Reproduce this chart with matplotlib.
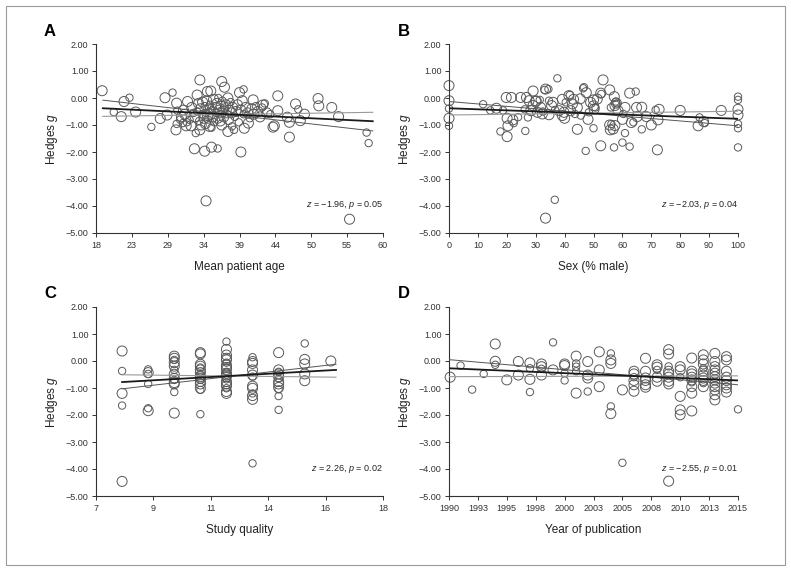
import matplotlib
matplotlib.use("Agg")
import numpy as np
from matplotlib import pyplot as plt
from matplotlib.patches import Rectangle

plt.rcParams['font.family'] = ['Liberation Sans', 'DejaVu Sans']
plt.rcParams['mathtext.fontset'] = 'custom'
plt.rcParams['mathtext.rm'] = 'Liberation Sans'
plt.rcParams['mathtext.it'] = 'Liberation Sans:italic'
plt.rcParams['axes.unicode_minus'] = True

# (x, hedges g, weight class)
age_pts = [
    (18.9, 0.27, 2), (20.6, -0.52, 1), (21.7, -0.69, 2), (22.1, -0.13, 2), (22.9, 0.01, 1),
    (23.8, -0.52, 2), (26.1, -1.07, 1), (27.4, -0.76, 2), (28.1, 0.01, 2), (28.4, -0.63, 2),
    (29.2, 0.20, 1), (29.8, -0.19, 2), (29.9, -0.47, 1), (29.7, -1.18, 2), (29.8, -0.96, 1),
    (30.5, -0.69, 2), (30.7, -0.93, 1), (31.2, -1.03, 2), (31.4, -0.13, 2), (31.7, -0.81, 1),
    (31.9, -1.03, 2), (32.4, -1.88, 2), (32.6, -1.30, 1), (32.8, 0.11, 2), (33.2, 0.67, 2),
    (33.2, -1.18, 2), (33.9, -1.97, 2), (34.1, -3.81, 2), (34.3, 0.24, 2), (34.8, 0.26, 2),
    (34.9, -1.82, 2), (35.8, -1.87, 1), (36.4, 0.61, 2), (36.8, 0.40, 2), (37.3, 0.00, 2),
    (37.3, -1.24, 2), (38.2, -1.18, 1), (39.2, -2.00, 2), (39.0, 0.20, 2), (39.6, 0.32, 1),
    (39.7, -1.12, 2), (40.3, -0.93, 2), (41.0, -0.07, 2), (42.4, -0.26, 2), (42.7, -0.20, 1),
    (43.9, -1.08, 2), (44.1, -1.03, 2), (44.6, 0.08, 2), (44.6, -0.47, 2), (46.0, -0.71, 2),
    (46.3, -1.45, 2), (46.3, -0.90, 2), (47.2, -0.22, 2), (47.6, -0.42, 1), (47.9, -0.84, 2),
    (48.5, -0.60, 2), (50.5, -0.02, 2), (50.6, -0.29, 2), (52.5, -0.35, 2), (53.5, -0.69, 2),
    (55.1, -4.49, 2), (57.6, -1.28, 1), (57.9, -1.67, 1),
    (32.0, -0.35, 2), (32.3, -0.55, 1), (32.5, -0.70, 2), (32.8, -0.50, 1), (33.0, -0.20, 2),
    (33.1, -0.85, 1), (33.3, -0.40, 2), (33.5, -0.60, 1), (33.6, -0.15, 2), (33.8, -0.75, 2),
    (33.9, -0.30, 1), (34.0, -0.95, 2), (34.1, -0.55, 1), (34.2, -0.10, 2), (34.3, -0.65, 2),
    (34.4, -0.80, 1), (34.5, -0.40, 2), (34.6, -1.05, 2), (34.7, -0.25, 1), (34.8, -0.60, 2),
    (35.0, -0.45, 1), (35.1, -0.70, 2), (35.2, -0.05, 2), (35.3, -0.90, 1), (35.5, -0.35, 2),
    (35.6, -0.55, 1), (35.7, -0.20, 2), (35.8, -0.75, 2), (35.9, 0.00, 1), (36.0, -0.45, 2),
    (36.1, -0.60, 1), (36.2, -0.85, 2), (36.3, -0.30, 2), (36.5, -0.10, 1), (36.6, -0.50, 2),
    (36.7, -0.70, 2), (36.9, -0.40, 1), (37.0, -0.25, 2), (37.2, -0.60, 1), (37.4, -0.80, 2),
    (37.5, -0.45, 2), (37.7, -0.15, 1), (37.8, -0.55, 2), (38.0, -0.35, 2), (38.3, -0.70, 1),
    (38.5, -0.50, 2), (38.7, -0.25, 2), (38.9, -0.90, 1), (39.2, -0.45, 2), (39.4, -0.10, 2),
    (39.6, -0.60, 1), (39.9, -0.35, 2), (40.2, -0.55, 2), (40.5, -0.75, 1), (40.8, -0.40, 2),
    (41.1, -0.60, 2), (41.4, -0.30, 1), (41.7, -0.50, 2), (42.0, -0.70, 2), (42.3, -0.35, 1),
    (43.0, -0.55, 2), (43.5, -0.60, 1), (31.0, -0.60, 2), (31.3, -0.90, 1), (30.8, -0.45, 2),
    (30.3, -0.80, 1), (33.4, -1.00, 2), (34.9, -1.10, 1), (36.4, -1.00, 2), (37.9, -1.05, 1),
]

sex_pts = [
    (0, 0.46, 2), (0, -0.10, 2), (0, -0.39, 1), (0, -0.75, 2), (0, -1.03, 1),
    (11.8, -0.23, 1), (14.3, -0.46, 1), (16.4, -0.38, 2), (17.8, -1.24, 1), (18.7, -0.46, 1),
    (19.8, 0.02, 2), (20.1, -0.75, 2), (20.1, -1.43, 2), (20.4, -1.03, 2), (21.6, 0.02, 2),
    (22.1, -0.81, 2), (22.4, -0.93, 1), (23.9, -0.71, 1), (24.8, 0.02, 2), (26.2, -0.42, 1),
    (26.4, -1.22, 1), (26.8, 0.02, 2), (27.3, -0.72, 1), (27.7, -0.10, 2), (28.3, -0.47, 2),
    (29.1, 0.26, 2), (29.1, -0.28, 2), (30.0, -0.12, 2), (30.2, -0.11, 2), (30.6, -0.53, 2),
    (31.4, -0.07, 1), (31.7, -0.35, 2), (32.3, -0.59, 2), (32.5, -0.50, 1), (33.1, 0.30, 1),
    (33.4, 0.33, 2), (33.4, -4.45, 2), (34.4, 0.33, 1), (34.6, -0.10, 1), (34.6, -0.62, 2),
    (35.5, -0.28, 2), (36.0, -0.16, 2), (36.6, -3.77, 1), (36.7, -0.44, 1), (37.5, 0.73, 1),
    (38.1, -0.47, 2), (39.2, -0.05, 2), (39.2, -0.65, 2), (39.8, -0.53, 2), (40.4, -0.16, 1),
    (40.0, -0.75, 2), (41.5, 0.09, 2), (41.8, 0.11, 1), (42.1, -0.47, 2), (42.7, -0.22, 2),
    (43.1, -0.05, 2), (43.6, -0.59, 1), (44.4, -1.16, 2), (44.4, -0.35, 2), (45.4, -0.03, 2),
    (45.6, -0.65, 1), (46.4, 0.36, 1), (46.7, 0.40, 1), (47.3, -1.96, 1), (47.5, 0.20, 2),
    (48.1, -0.79, 2), (48.4, -0.53, 1), (49.0, -0.16, 2), (50.0, -0.07, 2), (50.0, -0.29, 2),
    (50.0, -1.12, 1), (50.2, -0.41, 2), (50.7, -0.35, 1), (51.3, -0.04, 2), (52.5, -1.77, 2),
    (52.5, 0.18, 2), (52.7, 0.15, 1), (53.3, 0.67, 2), (55.6, 0.30, 2), (55.6, -1.00, 2),
    (55.8, -1.18, 2), (56.0, -0.35, 1), (57.1, -1.83, 1), (57.2, 0.05, 2), (57.7, -0.13, 1),
    (57.9, -0.19, 2), (57.4, -0.28, 2), (58.0, -0.20, 1), (58.5, -0.47, 2), (56.8, -1.15, 2),
    (57.4, -1.02, 2), (56.2, -0.96, 1), (60.0, -1.65, 1), (60.9, -1.30, 1), (60.0, -0.79, 2),
    (60.3, -0.59, 1), (60.9, -0.35, 2), (62.5, -1.80, 1), (62.5, 0.18, 2), (63.1, -0.91, 2),
    (63.8, -0.90, 1), (64.6, 0.24, 1), (65.1, -0.69, 2), (64.9, -0.35, 2), (66.7, -1.16, 1),
    (66.7, -0.34, 2), (68.3, -0.69, 2), (70.0, -1.00, 2), (71.5, -0.44, 1), (72.1, -1.92, 2),
    (72.3, -0.81, 2), (72.7, -0.42, 2), (80.0, -0.46, 2), (86.2, -1.03, 2), (86.7, -0.72, 1),
    (88.1, -0.87, 2), (88.5, -0.93, 1), (94.2, -0.46, 2), (100, 0.05, 1), (100, -0.07, 1),
    (100, -0.42, 2), (100, -0.63, 2), (100, -0.96, 1), (100, -1.12, 1), (100, -1.83, 1),
]

quality_pts = [
    (8, 0.37, 2), (8, -0.37, 1), (8, -1.20, 2), (8, -1.65, 1), (8, -4.46, 2),
    (9, -0.31, 1), (9, -0.43, 2), (9, -0.48, 1), (9, -0.85, 1), (9, -1.75, 1), (9, -1.84, 2),
    (10, 0.18, 2), (10, 0.10, 2), (10, 0.04, 1), (10, -0.06, 2), (10, -0.19, 2), (10, -0.33, 1),
    (10, -0.49, 2), (10, -0.64, 2), (10, -0.70, 1), (10, -0.80, 2), (10, -0.85, 2), (10, -1.15, 1),
    (10, -1.93, 2),
    (11, 0.31, 2), (11, 0.26, 2), (11, -0.12, 2), (11, -0.19, 2), (11, -0.24, 1), (11, -0.33, 2),
    (11, -0.43, 2), (11, -0.49, 1), (11, -0.58, 2), (11, -0.64, 2), (11, -0.70, 1), (11, -0.76, 2),
    (11, -0.85, 2), (11, -1.01, 2), (11, -1.07, 1), (11, -1.97, 1),
    (12, 0.72, 1), (12, 0.43, 2), (12, 0.22, 2), (12, 0.10, 2), (12, 0.04, 2), (12, -0.06, 1),
    (12, -0.15, 2), (12, -0.24, 2), (12, -0.31, 2), (12, -0.40, 1), (12, -0.46, 2), (12, -0.52, 2),
    (12, -0.58, 2), (12, -0.68, 1), (12, -0.76, 2), (12, -0.85, 2), (12, -0.93, 2), (12, -1.01, 1),
    (12, -1.13, 2), (12, -1.20, 2),
    (13, 0.14, 1), (13, -0.02, 2), (13, -0.09, 2), (13, -0.33, 2), (13, -0.52, 2), (13, -0.58, 1),
    (13, -0.93, 2), (13, -1.01, 2), (13, -1.20, 1), (13, -1.28, 2), (13, -1.42, 2), (13, -3.79, 1),
    (14, 0.31, 2), (14, -0.33, 2), (14, -0.40, 1), (14, -0.48, 2), (14, -0.58, 2), (14, -0.65, 1),
    (14, -0.76, 2), (14, -0.85, 2), (14, -0.98, 2), (14, -1.05, 1), (14, -1.30, 1), (14, -1.81, 1),
    (15, 0.65, 1), (15, 0.06, 2), (15, -0.11, 2), (15, -0.48, 2), (15, -0.73, 2),
    (16, 0.00, 2),
]

year_pts = [
    (1990.1, -0.60, 2), (1991.0, -0.17, 1), (1992.0, -1.06, 1), (1993.0, -0.48, 1),
    (1994.0, 0.63, 2), (1994.0, -0.01, 2), (1994.0, -0.14, 1), (1995.0, -0.70, 2),
    (1996.0, -0.02, 2), (1996.0, -0.52, 2), (1997.0, -0.07, 2), (1997.0, -0.27, 1),
    (1997.0, -0.68, 2), (1997.0, -1.15, 1), (1998.0, -0.11, 2), (1998.0, -0.21, 2),
    (1998.0, -0.29, 1), (1998.0, -0.52, 2), (1999.0, 0.69, 1), (1999.0, -0.33, 2),
    (2000, -0.11, 2), (2000, -0.17, 2), (2000, -0.45, 1), (2000, -0.72, 1),
    (2001, 0.18, 2), (2001, -0.09, 1), (2001, -0.21, 1), (2001, -0.38, 1), (2001, -1.19, 2),
    (2002, -0.02, 2), (2002, -0.52, 2), (2002, -0.63, 2), (2002, -1.13, 1),
    (2003, 0.34, 2), (2003, -0.33, 2), (2003, -0.95, 2),
    (2004, 0.28, 1), (2004, 0.04, 2), (2004, -0.09, 2), (2004, -1.68, 1), (2004, -1.95, 2),
    (2005, -1.07, 2), (2005, -3.77, 1),
    (2006, -0.38, 2), (2006, -0.48, 2), (2006, -0.60, 1), (2006, -0.72, 2), (2006, -0.88, 2), (2006, -1.12, 2),
    (2007, 0.10, 2), (2007, -0.38, 2), (2007, -0.63, 2), (2007, -0.72, 2), (2007, -0.88, 2), (2007, -0.97, 2),
    (2008, -0.14, 2), (2008, -0.23, 2), (2008, -0.33, 1), (2008, -0.60, 2), (2008, -0.75, 2),
    (2009, 0.42, 2), (2009, 0.26, 2), (2009, -0.20, 1), (2009, -0.38, 2), (2009, -0.48, 2),
    (2009, -0.60, 2), (2009, -0.75, 2), (2009, -0.85, 2), (2009, -4.45, 2),
    (2010, -0.21, 2), (2010, -0.33, 2), (2010, -0.60, 1), (2010, -1.31, 2), (2010, -1.81, 2), (2010, -1.99, 2),
    (2011, 0.11, 2), (2011, -0.38, 2), (2011, -0.48, 2), (2011, -0.60, 2), (2011, -0.70, 2),
    (2011, -0.79, 1), (2011, -0.95, 2), (2011, -1.19, 2), (2011, -1.85, 2),
    (2012, 0.23, 2), (2012, 0.04, 2), (2012, -0.11, 2), (2012, -0.27, 1), (2012, -0.38, 2),
    (2012, -0.52, 2), (2012, -0.63, 2), (2012, -0.72, 2), (2012, -0.82, 1), (2012, -0.95, 2),
    (2013, 0.28, 2), (2013, -0.02, 2), (2013, -0.21, 2), (2013, -0.33, 2), (2013, -0.45, 2),
    (2013, -0.58, 2), (2013, -0.70, 2), (2013, -0.82, 2), (2013, -0.95, 2), (2013, -1.07, 2),
    (2013, -1.25, 2), (2013, -1.44, 2),
    (2014, 0.16, 2), (2014, 0.04, 2), (2014, -0.38, 2), (2014, -0.60, 2), (2014, -0.72, 2),
    (2014, -0.88, 2), (2014, -1.00, 2), (2014, -1.15, 2),
    (2015, -1.79, 1),
]

# meta-regression line and bounds: values at left and right ends of the line
age_line = {'x': [19.0, 58.5], 'fit': [-0.38, -0.86], 'b1': [-0.08, -1.22], 'b2': [-0.68, -0.53]}
sex_line = {'x': [0, 100], 'fit': [-0.38, -0.77], 'b1': [-0.13, -1.03], 'b2': [-0.63, -0.49]}
quality_line = {'x': [8, 16.2], 'fit': [-0.78, -0.33], 'b1': [-1.03, -0.12], 'b2': [-0.51, -0.60]}
year_line = {'x': [1990, 2015], 'fit': [-0.27, -0.72], 'b1': [0.05, -0.88], 'b2': [-0.58, -0.55]}

panels = [
    ('A', age_pts, age_line, (18, 60), np.linspace(18, 60, 9), 'Mean patient age',
     '$z$ = \u22121.96, $p$ = 0.05', -3.95),
    ('B', sex_pts, sex_line, (0, 100), np.arange(0, 101, 10), 'Sex (% male)',
     '$z$ = \u22122.03, $p$ = 0.04', -3.95),
    ('C', quality_pts, quality_line, (7, 18), np.linspace(7, 18, 6), 'Study quality',
     '$z$ = 2.26, $p$ = 0.02', -4.0),
    ('D', year_pts, year_line, (1990, 2015), np.linspace(1990, 2015, 11), 'Year of publication',
     '$z$ = \u22122.55, $p$ = 0.01', -4.0),
]

W, H = 791, 571
fig = plt.figure(figsize=(W / 100, H / 100), dpi=100)
fig.patches.append(Rectangle((6 / W, 6 / H), 779 / W, 559 / H, transform=fig.transFigure,
                             fill=False, edgecolor='#9a9a9a', linewidth=0.8))

boxes = {'A': (96, 44, 383, 233), 'B': (449, 44, 738, 233),
         'C': (96, 307, 383, 496), 'D': (449, 307, 738, 496)}
letter_pos = {'A': (44, 32), 'B': (398, 32), 'C': (44, 293), 'D': (398, 293)}

for letter, pts, line, xlim, xticks, xlabel, note, note_y in panels:
    l, t, r, b = boxes[letter]
    ax = fig.add_axes([l / W, 1 - b / H, (r - l) / W, (b - t) / H])
    xs, gs, ws = zip(*pts)
    sizes = [28 if w == 1 else 52 for w in ws]
    ax.scatter(xs, gs, s=sizes, facecolors='none', edgecolors='#5a5a5a',
               linewidths=0.7, clip_on=False, zorder=2)
    ax.plot(line['x'], line['b2'], color='#9a9a9a', lw=0.8, zorder=3)
    ax.plot(line['x'], line['b1'], color='#555555', lw=0.7, zorder=3)
    ax.plot(line['x'], line['fit'], color='#1a1a1a', lw=1.3, zorder=4)

    ax.set_xlim(*xlim)
    ax.set_ylim(-5, 2)
    ax.set_xticks(xticks)
    ax.set_xticklabels([f'{v:.0f}' for v in np.round(xticks + 1e-9)])
    yt = np.arange(-5, 3, 1)
    ax.set_yticks(yt)
    ax.set_yticklabels([f'{v:.2f}'.replace('-', '\u2212') for v in yt])
    for side in ('top', 'right'):
        ax.spines[side].set_visible(False)
    for side in ('left', 'bottom'):
        ax.spines[side].set_color('#333333')
        ax.spines[side].set_linewidth(0.8)
    ax.tick_params(length=3, width=0.7, colors='#333333', labelsize=6.5, pad=2.5)
    ax.set_xlabel(xlabel, fontsize=8.5, labelpad=8, color='#222222')
    ax.set_ylabel('Hedges $g$', fontsize=8.5, labelpad=4, color='#222222')
    ax.text(xlim[1], note_y, note, ha='right', va='center', fontsize=6.5, color='#222222')
    lx, ly = letter_pos[letter]
    fig.text(lx / W, 1 - ly / H, letter, fontsize=12, fontweight='bold', ha='left', va='center')

fig.savefig('out.png', dpi=100)
